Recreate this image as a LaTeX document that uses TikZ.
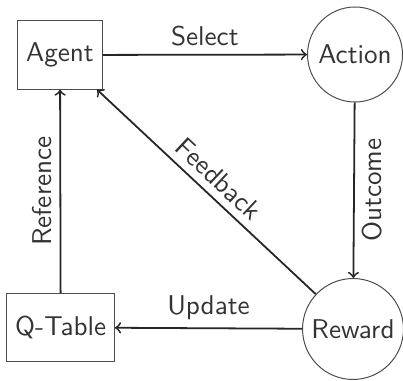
\documentclass[tikz,border=0pt]{standalone}
\begin{document}
\begin{tikzpicture}[x=0.4032pt,y=-0.4032pt,
  every node/.style={font=\sffamily\fontsize{10.95}{13}\selectfont, text=black!80},
  boxnode/.style={draw=black!70, line width=0.4pt, rectangle},
  circnode/.style={draw=black!70, line width=0.4pt, circle, inner sep=0pt},
  conn/.style={draw=black!85, line width=0.72pt, -{to}},
  lbl/.style={midway, inner sep=3pt}]
\useasboundingbox (0,0) rectangle (403,381);
\node[boxnode, minimum width=33.6pt, minimum height=27.5pt] (agent) at (60,55) {Agent};
\node[circnode, minimum size=38.3pt] (action) at (355,54.5) {Action};
\node[circnode, minimum size=40.7pt] (reward) at (353,329) {Reward};
\node[boxnode, minimum width=42.5pt, minimum height=27.6pt] (qtable) at (60.7,327.5) {Q-Table};
\draw[conn] (agent) -- node[lbl, above] {Select} (action);
\draw[conn] (action) -- node[lbl, rotate=90, below] {Outcome} (reward);
\draw[conn] (reward) -- node[lbl, above] {Update} (qtable);
\draw[conn] (qtable) -- node[lbl, rotate=90, above] {Reference} (agent);
\draw[conn] (reward) -- node[lbl, sloped, above] {Feedback} (agent);
\end{tikzpicture}
\end{document}
